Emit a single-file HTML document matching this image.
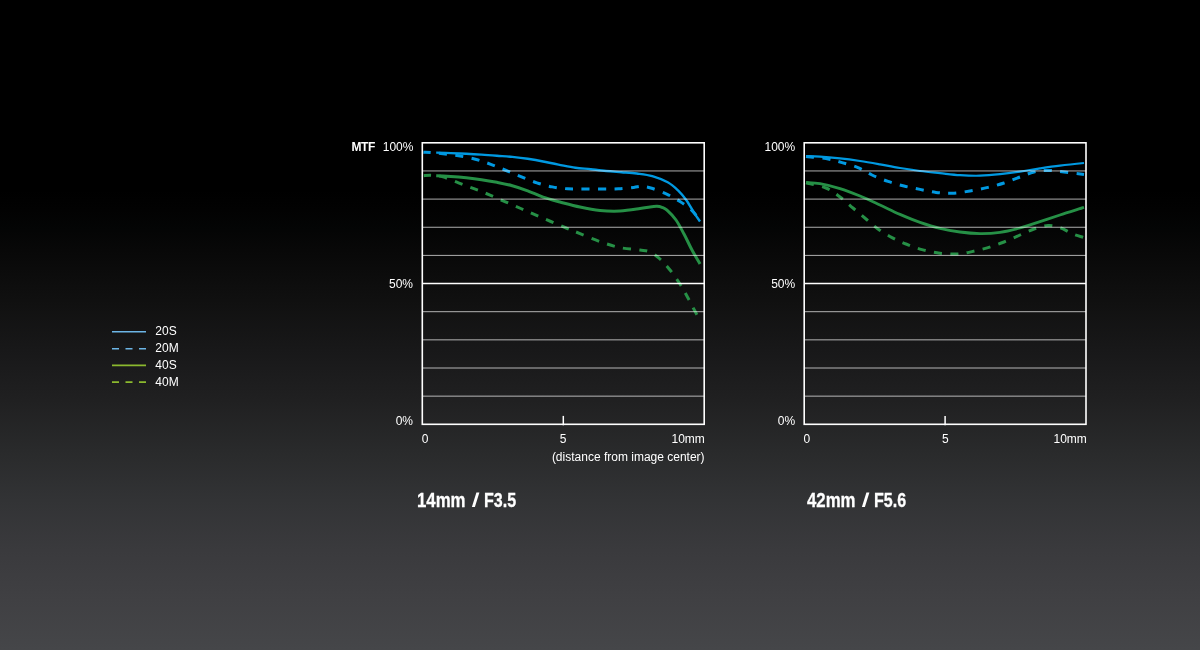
<!DOCTYPE html>
<html><head><meta charset="utf-8"><title>MTF Chart</title>
<style>
html,body{margin:0;padding:0;}
body{width:1200px;height:650px;overflow:hidden;position:relative;background:#000;
background-image:linear-gradient(to bottom,rgb(0,0,0) 0px,rgb(0,0,0) 190px,rgb(2,2,2) 210px,rgb(4,5,5) 230px,rgb(8,8,8) 250px,rgb(16,16,16) 300px,rgb(24,24,25) 350px,rgb(32,32,33) 400px,rgb(41,42,43) 450px,rgb(50,51,53) 500px,rgb(58,58,61) 550px,rgb(64,64,67) 600px,rgb(69,70,73) 650px);
font-family:"Liberation Sans",sans-serif;color:#fff;}
#txt{position:absolute;left:0;top:0;width:1200px;height:650px;will-change:transform;}
.t{color:#fff;}
.ttl{color:#fff;transform-origin:0 50%;-webkit-text-stroke:0.3px #fff;}
</style></head><body>
<svg width="1200" height="650" viewBox="0 0 1200 650" style="position:absolute;left:0;top:0">
<path d="M436.2 175.7 C438.6 175.8 445.8 176.2 450.8 176.6 C455.8 176.9 461.1 177.3 466.2 177.8 C471.3 178.3 476.4 178.9 481.5 179.7 C486.6 180.4 491.8 181.3 496.9 182.3 C502.0 183.3 507.2 184.3 512.3 185.7 C517.4 187.1 522.6 188.9 527.7 190.8 C532.8 192.7 537.7 195.3 543.1 197.2 C548.5 199.1 553.9 200.4 560.0 202.0 C566.1 203.6 573.3 205.6 580.0 207.0 C586.7 208.4 593.3 209.7 600.0 210.4 C606.7 211.1 613.3 211.3 620.0 211.0 C626.7 210.7 635.0 209.3 640.0 208.6 C645.0 207.9 647.2 207.3 650.0 206.9 C652.8 206.5 655.0 206.2 657.0 206.3 C659.0 206.4 660.3 206.7 662.0 207.3 C663.7 208.0 664.7 208.1 667.0 210.2 C669.3 212.3 673.2 216.0 676.0 220.0 C678.8 224.0 681.3 229.0 684.0 234.0 C686.7 239.0 689.3 245.0 692.0 250.0 C694.7 255.0 698.7 261.7 700.0 264.0" fill="none" stroke="#269046" stroke-width="3.0"/>
<path d="M423.8 175.7 C425.1 175.6 428.3 175.1 431.5 175.3 C434.7 175.5 438.5 175.7 443.0 176.9 C447.5 178.2 453.2 180.8 458.5 182.8 C463.8 184.8 469.4 186.9 474.6 188.9 C479.9 190.9 484.9 192.9 490.0 195.1 C495.1 197.2 500.3 199.6 505.4 201.8 C510.5 204.0 515.8 206.3 520.8 208.5 C525.8 210.7 530.4 212.7 535.4 214.9 C540.4 217.1 545.7 219.3 550.8 221.5 C555.9 223.7 561.3 226.0 566.2 228.0 C571.1 230.0 574.4 231.3 580.0 233.6 C585.6 235.9 593.3 239.3 600.0 241.6 C606.7 243.9 613.3 246.2 620.0 247.6 C626.7 249.0 635.0 249.3 640.0 250.0 C645.0 250.7 646.7 250.5 650.0 252.0 C653.3 253.5 656.7 256.0 660.0 259.0 C663.3 262.0 666.7 265.8 670.0 270.0 C673.3 274.2 677.0 279.3 680.0 284.0 C683.0 288.7 685.2 292.8 688.0 298.0 C690.8 303.2 695.5 312.2 697.0 315.0" fill="none" stroke="#269046" stroke-width="3.0" stroke-dasharray="8.1 8.35" stroke-dashoffset="0.8"/>
<path d="M436.2 152.6 C438.6 152.7 445.8 152.9 450.8 153.1 C455.8 153.3 461.1 153.6 466.2 153.8 C471.3 154.1 476.4 154.3 481.5 154.6 C486.6 154.9 491.8 155.3 496.9 155.7 C502.0 156.1 507.2 156.4 512.3 156.9 C517.4 157.4 522.6 158.0 527.7 158.8 C532.8 159.6 538.0 160.5 543.1 161.5 C548.2 162.5 553.1 163.6 558.5 164.6 C563.9 165.6 570.0 166.9 575.4 167.7 C580.8 168.5 585.7 168.6 590.8 169.2 C595.9 169.8 601.1 170.5 606.2 171.0 C611.3 171.5 616.4 171.8 621.5 172.2 C626.6 172.6 631.8 172.8 636.9 173.5 C642.0 174.2 647.2 174.7 652.3 176.2 C657.4 177.7 663.3 179.9 667.7 182.3 C672.1 184.7 675.4 187.9 678.5 190.8 C681.6 193.8 683.7 196.4 686.2 200.0 C688.8 203.6 691.5 208.7 693.8 212.3 C696.1 215.9 699.0 220.0 700.0 221.5" fill="none" stroke="#0099e1" stroke-width="2.4"/>
<path d="M423.4 152.3 C424.7 152.4 427.7 152.3 431.0 152.6 C434.3 152.8 438.4 153.3 443.0 153.8 C447.6 154.3 453.1 154.9 458.5 155.8 C463.9 156.7 470.0 157.8 475.4 159.2 C480.8 160.6 485.7 162.4 490.8 164.3 C495.9 166.2 501.1 168.4 506.2 170.5 C511.3 172.6 516.4 174.8 521.5 176.9 C526.6 179.0 531.8 181.1 536.9 182.8 C542.0 184.5 547.2 185.9 552.3 186.9 C557.4 187.9 562.6 188.5 567.7 188.8 C572.8 189.1 577.5 188.9 583.1 188.9 C588.7 188.9 595.6 189.1 601.5 189.1 C607.4 189.1 613.1 189.1 618.5 188.8 C623.9 188.5 630.0 187.8 633.8 187.4 C637.6 187.0 638.7 186.3 641.5 186.4 C644.3 186.5 646.7 186.8 650.8 188.0 C654.9 189.2 661.3 191.6 666.2 193.8 C671.1 196.1 675.6 198.7 680.0 201.5 C684.4 204.3 689.0 207.6 692.3 210.8 C695.6 214.0 698.7 219.1 700.0 220.8" fill="none" stroke="#0099e1" stroke-width="3.0" stroke-dasharray="8.1 8.35" stroke-dashoffset="0.8"/>
<path d="M806.0 182.4 C808.3 182.6 814.3 182.6 820.0 183.6 C825.7 184.6 833.3 186.5 840.0 188.6 C846.7 190.7 853.3 193.3 860.0 196.0 C866.7 198.7 873.3 201.9 880.0 205.0 C886.7 208.1 893.3 211.5 900.0 214.4 C906.7 217.3 913.3 220.1 920.0 222.4 C926.7 224.7 933.3 226.8 940.0 228.4 C946.7 230.0 953.3 231.1 960.0 232.0 C966.7 232.9 973.3 233.5 980.0 233.6 C986.7 233.7 993.3 233.3 1000.0 232.4 C1006.7 231.5 1013.3 229.8 1020.0 228.0 C1026.7 226.2 1033.3 223.8 1040.0 221.6 C1046.7 219.4 1052.7 217.4 1060.0 215.0 C1067.3 212.6 1080.0 208.7 1084.0 207.4" fill="none" stroke="#269046" stroke-width="2.8"/>
<path d="M806.0 182.8 C809.3 183.7 820.3 185.6 826.0 188.0 C831.7 190.4 835.5 193.7 840.0 197.0 C844.5 200.3 848.7 204.3 853.0 208.0 C857.3 211.7 861.8 215.5 866.0 219.0 C870.2 222.5 873.7 225.9 878.0 229.0 C882.3 232.1 887.3 235.1 892.0 237.6 C896.7 240.1 901.0 242.0 906.0 244.0 C911.0 246.0 916.3 248.1 922.0 249.6 C927.7 251.1 934.0 252.5 940.0 253.2 C946.0 253.9 952.7 254.3 958.0 254.0 C963.3 253.7 967.0 252.7 972.0 251.6 C977.0 250.5 982.7 249.2 988.0 247.6 C993.3 246.0 998.7 244.1 1004.0 242.0 C1009.3 239.9 1015.0 237.2 1020.0 235.0 C1025.0 232.8 1029.3 230.6 1034.0 229.0 C1038.7 227.4 1043.7 225.8 1048.0 225.6 C1052.3 225.4 1056.0 226.3 1060.0 227.6 C1064.0 228.9 1068.0 231.9 1072.0 233.6 C1076.0 235.3 1082.0 236.9 1084.0 237.6" fill="none" stroke="#269046" stroke-width="3.0" stroke-dasharray="8.1 8.35" stroke-dashoffset="0"/>
<path d="M806.0 156.0 C808.3 156.1 814.3 156.2 820.0 156.6 C825.7 157.0 833.3 157.7 840.0 158.4 C846.7 159.1 853.3 160.0 860.0 161.0 C866.7 162.0 873.3 163.2 880.0 164.4 C886.7 165.6 893.3 166.9 900.0 168.0 C906.7 169.1 913.3 170.1 920.0 171.0 C926.7 171.9 933.3 172.5 940.0 173.2 C946.7 173.9 953.3 174.8 960.0 175.2 C966.7 175.6 973.3 175.9 980.0 175.7 C986.7 175.5 993.3 174.9 1000.0 174.2 C1006.7 173.5 1013.3 172.6 1020.0 171.6 C1026.7 170.6 1033.3 169.4 1040.0 168.4 C1046.7 167.4 1052.7 166.5 1060.0 165.6 C1067.3 164.7 1080.0 163.4 1084.0 163.0" fill="none" stroke="#0099e1" stroke-width="2.2"/>
<path d="M806.0 156.4 C809.3 156.8 820.0 157.6 826.0 158.6 C832.0 159.6 836.7 161.1 842.0 162.6 C847.3 164.1 853.0 165.5 858.0 167.6 C863.0 169.7 867.0 172.7 872.0 175.0 C877.0 177.3 882.7 179.6 888.0 181.4 C893.3 183.2 898.7 184.7 904.0 186.0 C909.3 187.3 914.7 188.3 920.0 189.4 C925.3 190.5 930.7 191.8 936.0 192.4 C941.3 193.1 946.3 193.5 952.0 193.3 C957.7 193.1 964.0 192.0 970.0 191.0 C976.0 190.0 982.3 188.7 988.0 187.4 C993.7 186.1 998.7 184.7 1004.0 183.0 C1009.3 181.3 1015.0 178.8 1020.0 177.0 C1025.0 175.2 1029.3 173.1 1034.0 172.0 C1038.7 170.9 1043.0 170.4 1048.0 170.4 C1053.0 170.4 1058.0 171.3 1064.0 172.0 C1070.0 172.7 1080.7 174.0 1084.0 174.4" fill="none" stroke="#0099e1" stroke-width="3.0" stroke-dasharray="8.1 8.35" stroke-dashoffset="0"/>
<line x1="422.3" y1="170.95" x2="704.2" y2="170.95" stroke="#fff" stroke-opacity="0.68" stroke-width="1"/>
<line x1="422.3" y1="199.10" x2="704.2" y2="199.10" stroke="#fff" stroke-opacity="0.68" stroke-width="1"/>
<line x1="422.3" y1="227.25" x2="704.2" y2="227.25" stroke="#fff" stroke-opacity="0.68" stroke-width="1"/>
<line x1="422.3" y1="255.40" x2="704.2" y2="255.40" stroke="#fff" stroke-opacity="0.68" stroke-width="1"/>
<line x1="422.3" y1="283.55" x2="704.2" y2="283.55" stroke="#fff" stroke-width="1.6"/>
<line x1="422.3" y1="311.70" x2="704.2" y2="311.70" stroke="#fff" stroke-opacity="0.68" stroke-width="1"/>
<line x1="422.3" y1="339.85" x2="704.2" y2="339.85" stroke="#fff" stroke-opacity="0.68" stroke-width="1"/>
<line x1="422.3" y1="368.00" x2="704.2" y2="368.00" stroke="#fff" stroke-opacity="0.68" stroke-width="1"/>
<line x1="422.3" y1="396.15" x2="704.2" y2="396.15" stroke="#fff" stroke-opacity="0.68" stroke-width="1"/>
<rect x="422.3" y="142.8" width="281.9" height="281.5" fill="none" stroke="#fff" stroke-width="1.6"/>
<line x1="563.3" y1="415.9" x2="563.3" y2="425.3" stroke="#fff" stroke-width="1.5"/>
<line x1="804.2" y1="170.95" x2="1086.0" y2="170.95" stroke="#fff" stroke-opacity="0.68" stroke-width="1"/>
<line x1="804.2" y1="199.10" x2="1086.0" y2="199.10" stroke="#fff" stroke-opacity="0.68" stroke-width="1"/>
<line x1="804.2" y1="227.25" x2="1086.0" y2="227.25" stroke="#fff" stroke-opacity="0.68" stroke-width="1"/>
<line x1="804.2" y1="255.40" x2="1086.0" y2="255.40" stroke="#fff" stroke-opacity="0.68" stroke-width="1"/>
<line x1="804.2" y1="283.55" x2="1086.0" y2="283.55" stroke="#fff" stroke-width="1.6"/>
<line x1="804.2" y1="311.70" x2="1086.0" y2="311.70" stroke="#fff" stroke-opacity="0.68" stroke-width="1"/>
<line x1="804.2" y1="339.85" x2="1086.0" y2="339.85" stroke="#fff" stroke-opacity="0.68" stroke-width="1"/>
<line x1="804.2" y1="368.00" x2="1086.0" y2="368.00" stroke="#fff" stroke-opacity="0.68" stroke-width="1"/>
<line x1="804.2" y1="396.15" x2="1086.0" y2="396.15" stroke="#fff" stroke-opacity="0.68" stroke-width="1"/>
<rect x="804.2" y="142.8" width="281.8" height="281.5" fill="none" stroke="#fff" stroke-width="1.6"/>
<line x1="945.1" y1="415.9" x2="945.1" y2="425.3" stroke="#fff" stroke-width="1.5"/>
<line x1="112" y1="331.7" x2="146" y2="331.7" stroke="#6cb5e6" stroke-width="1.6"/>
<line x1="112" y1="348.8" x2="146" y2="348.8" stroke="#6cb5e6" stroke-width="1.6" stroke-dasharray="7 6.5"/>
<line x1="112" y1="365.4" x2="146" y2="365.4" stroke="#8bb92e" stroke-width="1.6"/>
<line x1="112" y1="382.1" x2="146" y2="382.1" stroke="#8bb92e" stroke-width="1.6" stroke-dasharray="7 6.5"/>
<polygon points="471.9,506.9 474.9,506.9 479.4,492.6 476.4,492.6" fill="#fff"/>
<polygon points="861.9,506.9 864.9,506.9 869.4,492.6 866.4,492.6" fill="#fff"/>
</svg>
<div id="txt">
<div class="t " style="letter-spacing:-0.45px;position:absolute;white-space:nowrap;font-size:12px;line-height:12px;left:351.5px;top:140.6px;font-weight:bold;">MTF</div>
<div class="t " style="position:absolute;white-space:nowrap;font-size:12px;line-height:12px;right:786.6px;top:140.6px;">100%</div>
<div class="t " style="position:absolute;white-space:nowrap;font-size:12px;line-height:12px;right:787.0px;top:277.5px;">50%</div>
<div class="t " style="position:absolute;white-space:nowrap;font-size:12px;line-height:12px;right:787.0px;top:415.1px;">0%</div>
<div class="t " style="position:absolute;white-space:nowrap;font-size:12px;line-height:12px;left:421.8px;top:432.8px;">0</div>
<div class="t " style="position:absolute;white-space:nowrap;font-size:12px;line-height:12px;left:559.8px;top:432.8px;">5</div>
<div class="t " style="position:absolute;white-space:nowrap;font-size:12px;line-height:12px;right:495.2px;top:432.8px;">10mm</div>
<div class="t " style="position:absolute;white-space:nowrap;font-size:12px;line-height:12px;right:495.4px;top:451.0px;">(distance from image center)</div>
<div class="t " style="position:absolute;white-space:nowrap;font-size:12px;line-height:12px;right:404.8px;top:140.6px;">100%</div>
<div class="t " style="position:absolute;white-space:nowrap;font-size:12px;line-height:12px;right:404.8px;top:277.5px;">50%</div>
<div class="t " style="position:absolute;white-space:nowrap;font-size:12px;line-height:12px;right:404.8px;top:415.1px;">0%</div>
<div class="t " style="position:absolute;white-space:nowrap;font-size:12px;line-height:12px;left:803.6px;top:432.8px;">0</div>
<div class="t " style="position:absolute;white-space:nowrap;font-size:12px;line-height:12px;left:942.0px;top:432.8px;">5</div>
<div class="t " style="position:absolute;white-space:nowrap;font-size:12px;line-height:12px;right:113.2px;top:432.8px;">10mm</div>
<div class="t " style="position:absolute;white-space:nowrap;font-size:12px;line-height:12px;left:155.3px;top:325.1px;">20S</div>
<div class="t " style="position:absolute;white-space:nowrap;font-size:12px;line-height:12px;left:155.3px;top:342.0px;">20M</div>
<div class="t " style="position:absolute;white-space:nowrap;font-size:12px;line-height:12px;left:155.3px;top:358.9px;">40S</div>
<div class="t " style="position:absolute;white-space:nowrap;font-size:12px;line-height:12px;left:155.3px;top:375.9px;">40M</div>
<div class="t ttl" style="transform:scaleX(0.8);position:absolute;white-space:nowrap;font-size:21px;line-height:21px;left:417.0px;top:488.7px;font-weight:bold;">14mm</div>
<div class="t ttl" style="transform:scaleX(0.765);position:absolute;white-space:nowrap;font-size:21px;line-height:21px;left:484.3px;top:488.7px;font-weight:bold;">F3.5</div>
<div class="t ttl" style="transform:scaleX(0.8);position:absolute;white-space:nowrap;font-size:21px;line-height:21px;left:807.3px;top:488.7px;font-weight:bold;">42mm</div>
<div class="t ttl" style="transform:scaleX(0.765);position:absolute;white-space:nowrap;font-size:21px;line-height:21px;left:874.3px;top:488.7px;font-weight:bold;">F5.6</div>
</div>
</body></html>
